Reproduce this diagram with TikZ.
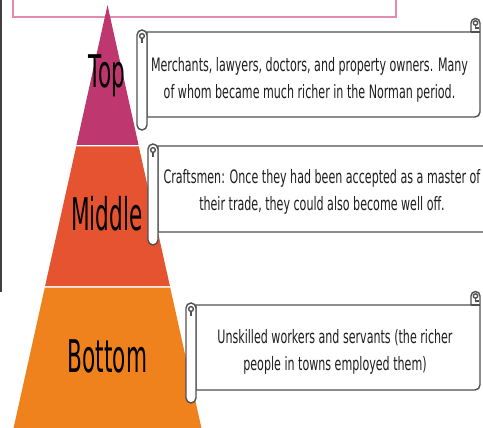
\documentclass[tikz,border=0pt]{standalone}
\usepackage{fontspec}
\newfontfamily\bodyfont[FakeStretch=0.6]{DejaVu Sans}
\newfontfamily\labelfont[FakeStretch=0.48]{DejaVu Sans}

\definecolor{tiertop}{RGB}{190,55,110}
\definecolor{tiermid}{RGB}{229,83,48}
\definecolor{tierbot}{RGB}{240,130,30}
\definecolor{titlepink}{RGB}{225,140,175}
\definecolor{scrollgray}{RGB}{80,80,80}
\definecolor{inkgray}{RGB}{30,30,30}

% A horizontal scroll: #1 left x, #2 right x, #3 top y, #4 bottom y
\newcommand\scrollshape[4]{%
  \filldraw[scrollline, fill=white]
    ({#1+10},#3) -- ({#2-9},#3) -- ({#2-9},{#3-9})
    arc[start angle=180, end angle=360, radius=4.5]
    -- (#2,{#4-5}) arc[start angle=0, end angle=90, radius=5]
    -- ({#1+10},#4) -- cycle;
  \draw[scrollline] ({#2-9},#3) -- (#2,#3);
  \draw[scrollline] ({#2-4.5},{#3-9}) circle[radius=2.2];
  \draw[scrollline] ({#2-4.5},{#3-6.8}) -- ({#2-4.5},{#3-4}) -- ({#2-1},{#3-4});
  \filldraw[scrollline, fill=white, rounded corners=5]
    (#1,{#3-2}) rectangle ({#1+10},{#4+13});
  \draw[scrollline] ({#1+5},{#3+4}) circle[radius=2.4];
  \draw[scrollline] ({#1+5},{#3+6.4}) -- ({#1+5},{#3+11});
}

\begin{document}
\begin{tikzpicture}[x=1pt, y=-1pt,
  scrollline/.style={draw=scrollgray, line width=1.4pt},
  tierlabel/.style={font=\labelfont\fontsize{45}{45}\selectfont, text=black, inner sep=0pt},
  scrolltext/.style={font=\bodyfont\fontsize{18.5}{26.5}\selectfont, text=inkgray,
    align=center, inner sep=0pt}]
\useasboundingbox (0,0) rectangle (483,428);

% frame pieces
\draw[titlepink, line width=1.5pt] (13,-5) rectangle (396,17);
\draw[black!75, line width=2pt] (1,-1) -- (1,292);

% pyramid tiers
\fill[tiertop] (107.5,5) -- (138.6,145) -- (76.4,145) -- cycle;
\fill[tiermid] (76.2,146.5) -- (138.8,146.5) -- (169.9,286) -- (45.1,286) -- cycle;
\fill[tierbot] (44.8,287.5) -- (170.2,287.5) -- (204.1,440) -- (10.9,440) -- cycle;

\node[tierlabel, anchor=base] (ltop) at (107,88) {Top};
\node[tierlabel, anchor=base] (lmid) at (107,230) {Middle};
\node[tierlabel, anchor=base] (lbot) at (107.5,372) {Bottom};

% scrolls
\scrollshape{137}{480}{32}{117}
\scrollshape{148}{500}{146}{232}
\scrollshape{186}{480}{305}{390}

\node[scrolltext] (ttop) at (309.5,80) {Merchants, lawyers, doctors, and property owners. Many\\of whom became much richer in the Norman period.};
\node[scrolltext] (tmid) at (322,192) {Craftsmen: Once they had been accepted as a master of\\their trade, they could also become well off.};
\node[scrolltext] (tbot) at (335,352) {Unskilled workers and servants (the richer\\people in towns employed them)};
\end{tikzpicture}
\end{document}
